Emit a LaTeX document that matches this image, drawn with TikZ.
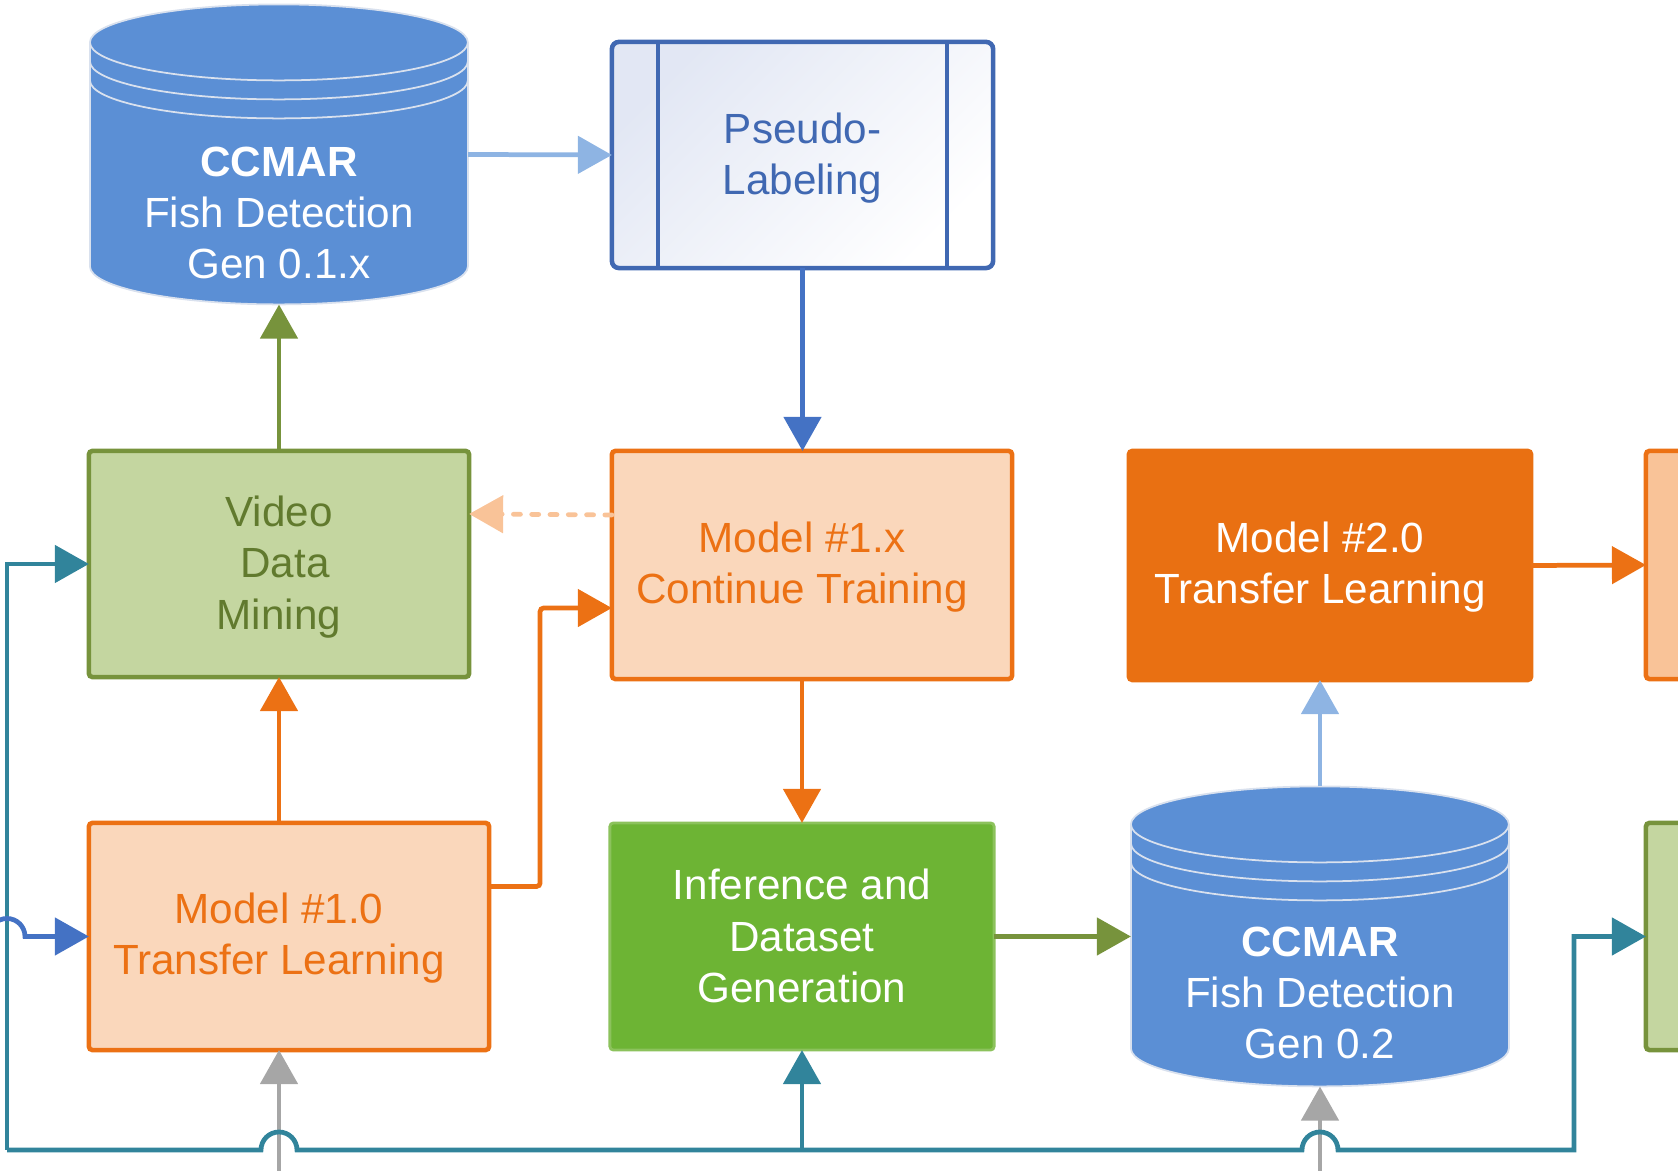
\documentclass[tikz,border=0pt]{standalone}
\usepackage{fontspec}
\setmainfont{Liberation Sans}
\usetikzlibrary{arrows.meta}

\definecolor{dbblue}{HTML}{5B8FD5}
\definecolor{dbring}{HTML}{D9E1EE}
\definecolor{plblue}{HTML}{4068B2}
\definecolor{plfill}{HTML}{E2E7F4}
\definecolor{vidfill}{HTML}{C4D6A0}
\definecolor{viddraw}{HTML}{77933C}
\definecolor{vidtext}{HTML}{617A2E}
\definecolor{mdlfill}{HTML}{FAD7BB}
\definecolor{mdldraw}{HTML}{EC7114}
\definecolor{mdldark}{HTML}{E97012}
\definecolor{mdlmid}{HTML}{F9C398}
\definecolor{inffill}{HTML}{6DB434}
\definecolor{infdraw}{HTML}{8CC25C}
\definecolor{busteal}{HTML}{31849B}
\definecolor{srcgray}{HTML}{A6A6A6}
\definecolor{lightarr}{HTML}{8EB4E3}
\definecolor{bluearr}{HTML}{4472C4}

\tikzset{>={Triangle[length=3.4mm,width=3.7mm]}}
\tikzset{
  every node/.style={font=\fontsize{12}{14.6}\selectfont, align=center, outer sep=0pt},
  block/.style={draw, line width=1.3pt, rounded corners=1pt, inner sep=0pt},
  drum/.style={inner sep=0pt, minimum width=3.78cm, minimum height=3cm},
  link/.style={->, line width=1.35pt},
}
\newcommand{\dbdrum}[1]{%
  \filldraw[dbblue, draw=dbring, line width=0.5pt] (#1.north west) ++(0,-38) -- ++(0,-224)
    arc (180:360:189 and 38) -- ++(0,224) arc (0:180:189 and 38) -- cycle;
  \foreach \dy in {38,57,76}
    \draw[dbring, line width=0.5pt] (#1.north west) ++(0,-\dy) arc (180:360:189 and 38);
}

\begin{document}
\begin{tikzpicture}[x=0.01cm, y=0.01cm]
\useasboundingbox (0,0) rectangle (1678,-1171);
\clip (0,0) rectangle (1678,-1171);

% data stores
\node[drum] (cyl1) at (279,-154.5) {};
\node[drum] (cyl2) at (1320,-936.5) {};
\dbdrum{cyl1}
\dbdrum{cyl2}
\node[white] (cyl1-t) at (279,-213) {\textbf{CCMAR}\\Fish Detection\\Gen 0.1.x};
\node[white] (cyl2-t) at (1320,-993) {\textbf{CCMAR}\\Fish Detection\\Gen 0.2};

% process boxes
\node[block, draw=plblue, top color=plfill, bottom color=white, shading angle=45,
  text=plblue, rounded corners=2pt, minimum width=3.81cm, minimum height=2.26cm]
  (pseudo) at (802.5,-155) {};
\node[text=plblue] (pseudo-t) at (802.5,-158) {Pseudo-\\Labeling};
\draw[plblue, line width=1.3pt] ([xshift=4.6mm]pseudo.north west) -- ([xshift=4.6mm]pseudo.south west);
\draw[plblue, line width=1.3pt] ([xshift=-4.6mm]pseudo.north east) -- ([xshift=-4.6mm]pseudo.south east);

\node[block, fill=vidfill, draw=viddraw, minimum width=3.8cm, minimum height=2.26cm] (video) at (279,-564) {};
\node[text=vidtext] (video-t) at (279,-567) {Video\\\hspace*{0.28em}Data\\Mining};

\node[block, fill=mdlfill, draw=mdldraw, minimum width=4cm, minimum height=2.28cm] (m1x) at (812,-565) {};
\node[text=mdldraw] (m1x-t) at (802,-567) {Model \#1.x\\Continue Training};

\node[block, fill=mdldark, draw=mdldark, minimum width=4.02cm, minimum height=2.29cm] (m20) at (1330,-565.5) {};
\node[white] (m20-t) at (1320,-567) {Model \#2.0\\Transfer Learning};

\node[block, fill=mdlmid, draw=mdldraw, minimum width=2cm, minimum height=2.28cm] (nextm) at (1746,-565) {};
\node[block, fill=vidfill, draw=viddraw, minimum width=2cm, minimum height=2.27cm] (nextv) at (1746,-936.5) {};

\node[block, fill=mdlfill, draw=mdldraw, minimum width=4cm, minimum height=2.27cm] (m10) at (289,-936.5) {};
\node[text=mdldraw] (m10-t) at (279,-938) {Model \#1.0\\Transfer Learning};

\node[block, fill=inffill, draw=infdraw, line width=0.8pt, minimum width=3.84cm, minimum height=2.27cm]
  (infer) at (802,-936.5) {};
\node[white] (infer-t) at (802,-936) {Inference and\\Dataset\\Generation};

% connectors
\draw[link, lightarr] (cyl1.east) -- (pseudo.west);
\draw[link, bluearr] (pseudo.south) -- (pseudo.south |- m1x.north);
\draw[link, viddraw] (video.north) -- (cyl1.south);
\draw[link, mdlmid, dash pattern=on 2pt off 3.2pt, line cap=round] ([yshift=5mm]m1x.west) -- ([yshift=5mm]video.east);
\draw[link, mdldraw] (m1x.south -| infer.north) -- (infer.north);
\draw[link, mdldraw] (m10.north -| video.south) -- (video.south);
\draw[link, mdldraw, rounded corners=1pt] ([yshift=5mm]m10.east) -- ++(51,0) |- ([yshift=-4.3mm]m1x.west);
\draw[link, viddraw] (infer.east) -- (cyl2.west);
\draw[link, lightarr] (cyl2.north) -- (cyl2.north |- m20.south);
\draw[link, mdldraw] (m20.east) -- (nextm.west);

% bottom bus with hops
\coordinate (srcA) at (279,-1200);
\coordinate (srcB) at (1320,-1200);
\coordinate (bus) at (7,-1150);
\coordinate (busend) at (1574,-1150);
\coordinate (bluein) at (-40,-936.5);
\coordinate (hopA) at (srcA |- bus);
\coordinate (hopB) at (srcB |- bus);
\coordinate (hopL) at (bus |- bluein);
\draw[link, srcgray] (srcA) -- (srcA |- m10.south);
\draw[link, srcgray] (srcB) -- (cyl2.south);
\draw[link, busteal] (bus) -- ([xshift=-1.8mm]hopA) arc (180:0:18) -- ([xshift=-1.8mm]hopB) arc (180:0:18)
  -- (busend) |- (nextv.west);
\draw[link, busteal] (bus) |- (video.west);
\draw[link, busteal] (bus -| infer.south) -- (infer.south);
\draw[link, bluearr] (bluein) -- ([xshift=-1.8mm]hopL) arc (180:0:18) -- (m10.west);
\end{tikzpicture}
\end{document}
